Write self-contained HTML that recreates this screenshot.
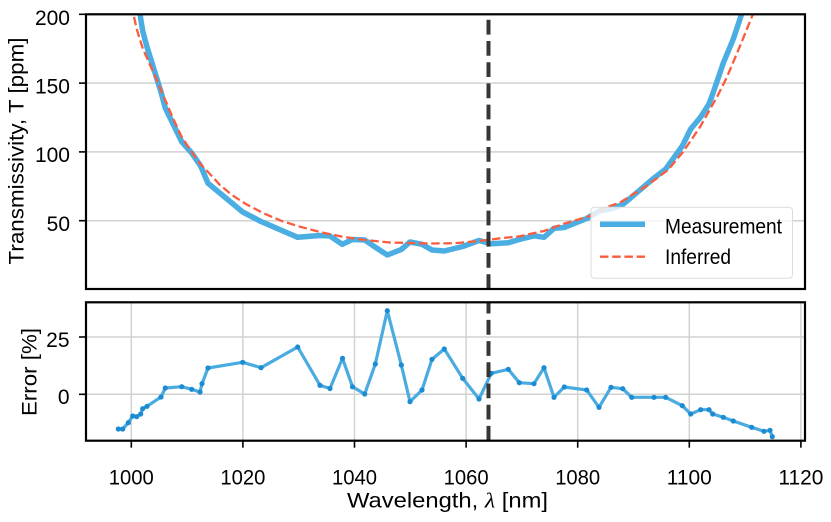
<!DOCTYPE html>
<html>
<head>
<meta charset="utf-8">
<style>
html,body{margin:0;padding:0;background:#fff;}
svg{display:block;}
text{font-family:"Liberation Sans","DejaVu Sans",sans-serif;fill:#000;}
</style>
</head>
<body>
<svg width="831" height="522" viewBox="0 0 831 522" xmlns="http://www.w3.org/2000/svg">
<defs>
<clipPath id="ctop"><rect x="86" y="14.3" width="719" height="274.7"/></clipPath>
<clipPath id="cbot"><rect x="86" y="302.3" width="719" height="138.4"/></clipPath>
</defs>
<rect x="0" y="0" width="831" height="522" fill="#fff"/>

<!-- ===== TOP PANEL ===== -->
<g stroke="#d2d2d2" stroke-width="1.5">
<line x1="86" y1="83.1" x2="805" y2="83.1"/>
<line x1="86" y1="151.9" x2="805" y2="151.9"/>
<line x1="86" y1="220.7" x2="805" y2="220.7"/>
</g>
<g clip-path="url(#ctop)">
<polyline fill="none" stroke="#4aaee2" stroke-width="5.5" stroke-linejoin="round"
points="138.6,0 140.7,18.7 142.7,31 147,47 161,92 165.3,108 181.7,141.7 191.7,153 200,165 202,169 208,183.3 242.7,212 261,221.5 297.7,237.3 320,235.5 330,236 342.3,244.3 352.3,239.5 364.7,240 375.3,247.2 387.3,255 401.3,249.5 410,242 422,244.3 432,250 444.3,251 462.7,246.5 479,240.5 491.3,243.8 508.3,242.8 519.3,239.5 534,235.8 544,237.3 554,228.3 564.3,227.5 586.7,218.5 599,211 611,209 622.7,204.5 631.7,197 654,178 665.7,169 682.3,146 690.7,129 700.7,117 709,104 712.7,94 723.3,63 733.3,39 743,10 745,0"/>
<polyline fill="none" stroke="#fa5c3e" stroke-width="2.3" stroke-dasharray="8.5 3.7"
points="131.5,5 133.3,14 137,30 140.7,42 143,49 147,58 150,65 155,76 159,85 163,95 167,104 172,116 181.7,137 191.7,152 200,163.5 208,172 220,185 232,195 245,203.5 263,213 281.7,221 300,226.7 320,232 343,236.8 365,240 390,242.5 430,243.5 455,243.2 479,241 500,238.3 520,236.3 532,233.5 544,231 563,224 590,216 610,206 620,202.5 645,187 668,170 683,152 700,127 717,97 727,77 740,46 753,14 755.5,8"/>
<line x1="488.5" y1="289" x2="488.5" y2="14.3" stroke="#363636" stroke-width="4" stroke-dasharray="14.8 6.4"/>
</g>
<!-- legend -->
<rect x="591" y="207.3" width="201.5" height="71" rx="3.5" ry="3.5" fill="#fff" fill-opacity="0.8" stroke="#dcdcdc" stroke-width="1"/>
<line x1="600" y1="224.3" x2="645" y2="224.3" stroke="#4aaee2" stroke-width="5.5"/>
<line x1="600" y1="256.7" x2="645" y2="256.7" stroke="#fa5c3e" stroke-width="2.3" stroke-dasharray="8.5 3.7"/>
<text x="665" y="233.3" font-size="21" textLength="117" lengthAdjust="spacingAndGlyphs">Measurement</text>
<text x="665" y="264.2" font-size="21" textLength="66" lengthAdjust="spacingAndGlyphs">Inferred</text>
<!-- spines -->
<rect x="86" y="14.3" width="719" height="274.7" fill="none" stroke="#000" stroke-width="2.2"/>
<!-- y ticks -->
<g stroke="#000" stroke-width="1.6">
<line x1="79" y1="14.3" x2="86" y2="14.3"/>
<line x1="79" y1="83.1" x2="86" y2="83.1"/>
<line x1="79" y1="151.9" x2="86" y2="151.9"/>
<line x1="79" y1="220.7" x2="86" y2="220.7"/>
</g>
<g font-size="21" text-anchor="end">
<text x="70" y="25">200</text>
<text x="70" y="93.3">150</text>
<text x="70" y="162">100</text>
<text x="70" y="230.8">50</text>
</g>
<text transform="translate(23.5,151) rotate(-90)" font-size="21" text-anchor="middle" textLength="227" lengthAdjust="spacingAndGlyphs">Transmissivity, T [ppm]</text>

<!-- ===== BOTTOM PANEL ===== -->
<g stroke="#d2d2d2" stroke-width="1.5">
<line x1="131.3" y1="302.3" x2="131.3" y2="440.7"/>
<line x1="242.9" y1="302.3" x2="242.9" y2="440.7"/>
<line x1="354.5" y1="302.3" x2="354.5" y2="440.7"/>
<line x1="466.1" y1="302.3" x2="466.1" y2="440.7"/>
<line x1="577.7" y1="302.3" x2="577.7" y2="440.7"/>
<line x1="689.3" y1="302.3" x2="689.3" y2="440.7"/>
<line x1="800.9" y1="302.3" x2="800.9" y2="440.7"/>
<line x1="86" y1="337" x2="805" y2="337"/>
<line x1="86" y1="394.3" x2="805" y2="394.3"/>
</g>
<g clip-path="url(#cbot)">
<polyline fill="none" stroke="#4aabe0" stroke-width="3.2" stroke-linejoin="round"
points="118.3,429 122.7,429 128.3,422.7 132.7,416 136.7,416.7 140.7,414 142.7,408.7 147,406.3 161,397 165.3,388 181.7,386.7 191.7,389.3 200,392 202,383.7 208,368 242.7,362.3 261,367.7 297.7,347 320,385.3 330,388.5 342.5,358.3 352.5,386.8 364.7,394 375.3,364 387.3,310.7 401.3,365 410,401.7 422,390 432,359.3 444.3,349 462.7,378.3 479,399 491.3,373.3 508.3,369.3 519.3,382.7 534,383.7 544,367.7 554,397.3 564.3,387 586.7,390 599,407.3 611,387.3 622.7,388.7 631.7,397.3 654,397.3 665.7,397.3 682.3,405.7 690.7,414 700.7,409.7 709,409.7 712.7,414 723.3,417.3 733.3,421 751.7,427.3 764,431.3 770,430.3 772.3,436.7"/>
<g fill="#1b8bd2">
<circle cx="118.3" cy="429" r="2.6"/><circle cx="122.7" cy="429" r="2.6"/><circle cx="128.3" cy="422.7" r="2.6"/><circle cx="132.7" cy="416" r="2.6"/><circle cx="136.7" cy="416.7" r="2.6"/><circle cx="140.7" cy="414" r="2.6"/><circle cx="142.7" cy="408.7" r="2.6"/><circle cx="147" cy="406.3" r="2.6"/><circle cx="161" cy="397" r="2.6"/><circle cx="165.3" cy="388" r="2.6"/><circle cx="181.7" cy="386.7" r="2.6"/><circle cx="191.7" cy="389.3" r="2.6"/><circle cx="200" cy="392" r="2.6"/><circle cx="202" cy="383.7" r="2.6"/><circle cx="208" cy="368" r="2.6"/><circle cx="242.7" cy="362.3" r="2.6"/><circle cx="261" cy="367.7" r="2.6"/><circle cx="297.7" cy="347" r="2.6"/><circle cx="320" cy="385.3" r="2.6"/><circle cx="330" cy="388.5" r="2.6"/><circle cx="342.5" cy="358.3" r="2.6"/><circle cx="352.5" cy="386.8" r="2.6"/><circle cx="364.7" cy="394" r="2.6"/><circle cx="375.3" cy="364" r="2.6"/><circle cx="387.3" cy="310.7" r="2.6"/><circle cx="401.3" cy="365" r="2.6"/><circle cx="410" cy="401.7" r="2.6"/><circle cx="422" cy="390" r="2.6"/><circle cx="432" cy="359.3" r="2.6"/><circle cx="444.3" cy="349" r="2.6"/><circle cx="462.7" cy="378.3" r="2.6"/><circle cx="479" cy="399" r="2.6"/><circle cx="491.3" cy="373.3" r="2.6"/><circle cx="508.3" cy="369.3" r="2.6"/><circle cx="519.3" cy="382.7" r="2.6"/><circle cx="534" cy="383.7" r="2.6"/><circle cx="544" cy="367.7" r="2.6"/><circle cx="554" cy="397.3" r="2.6"/><circle cx="564.3" cy="387" r="2.6"/><circle cx="586.7" cy="390" r="2.6"/><circle cx="599" cy="407.3" r="2.6"/><circle cx="611" cy="387.3" r="2.6"/><circle cx="622.7" cy="388.7" r="2.6"/><circle cx="631.7" cy="397.3" r="2.6"/><circle cx="654" cy="397.3" r="2.6"/><circle cx="665.7" cy="397.3" r="2.6"/><circle cx="682.3" cy="405.7" r="2.6"/><circle cx="690.7" cy="414" r="2.6"/><circle cx="700.7" cy="409.7" r="2.6"/><circle cx="709" cy="409.7" r="2.6"/><circle cx="712.7" cy="414" r="2.6"/><circle cx="723.3" cy="417.3" r="2.6"/><circle cx="733.3" cy="421" r="2.6"/><circle cx="751.7" cy="427.3" r="2.6"/><circle cx="764" cy="431.3" r="2.6"/><circle cx="770" cy="430.3" r="2.6"/><circle cx="772.3" cy="436.7" r="2.6"/>
</g>
<line x1="488.5" y1="440.7" x2="488.5" y2="302.3" stroke="#363636" stroke-width="4" stroke-dasharray="14.8 6.4"/>
</g>
<rect x="86" y="302.3" width="719" height="138.4" fill="none" stroke="#000" stroke-width="2.2"/>
<g stroke="#000" stroke-width="1.6">
<line x1="79" y1="337" x2="86" y2="337"/>
<line x1="79" y1="394.3" x2="86" y2="394.3"/>
<line x1="131.3" y1="440.7" x2="131.3" y2="447.7"/>
<line x1="242.9" y1="440.7" x2="242.9" y2="447.7"/>
<line x1="354.5" y1="440.7" x2="354.5" y2="447.7"/>
<line x1="466.1" y1="440.7" x2="466.1" y2="447.7"/>
<line x1="577.7" y1="440.7" x2="577.7" y2="447.7"/>
<line x1="689.3" y1="440.7" x2="689.3" y2="447.7"/>
<line x1="800.9" y1="440.7" x2="800.9" y2="447.7"/>
</g>
<g font-size="21" text-anchor="end">
<text x="69.5" y="346.8">25</text>
<text x="69.5" y="404.2">0</text>
</g>
<g font-size="21" text-anchor="middle">
<text x="131.3" y="484.3" textLength="45" lengthAdjust="spacingAndGlyphs">1000</text>
<text x="242.9" y="484.3" textLength="45" lengthAdjust="spacingAndGlyphs">1020</text>
<text x="354.5" y="484.3" textLength="45" lengthAdjust="spacingAndGlyphs">1040</text>
<text x="466.1" y="484.3" textLength="45" lengthAdjust="spacingAndGlyphs">1060</text>
<text x="577.7" y="484.3" textLength="45" lengthAdjust="spacingAndGlyphs">1080</text>
<text x="689.3" y="484.3" textLength="45" lengthAdjust="spacingAndGlyphs">1100</text>
<text x="800.9" y="484.3" textLength="45" lengthAdjust="spacingAndGlyphs">1120</text>
</g>
<text x="447.5" y="507.6" font-size="21" text-anchor="middle" textLength="201" lengthAdjust="spacingAndGlyphs">Wavelength, <tspan font-family="Liberation Serif, serif" font-style="italic">λ</tspan> [nm]</text>
<text transform="translate(36.5,372) rotate(-90)" font-size="21" text-anchor="middle" textLength="88" lengthAdjust="spacingAndGlyphs">Error [%]</text>
</svg>
</body>
</html>
